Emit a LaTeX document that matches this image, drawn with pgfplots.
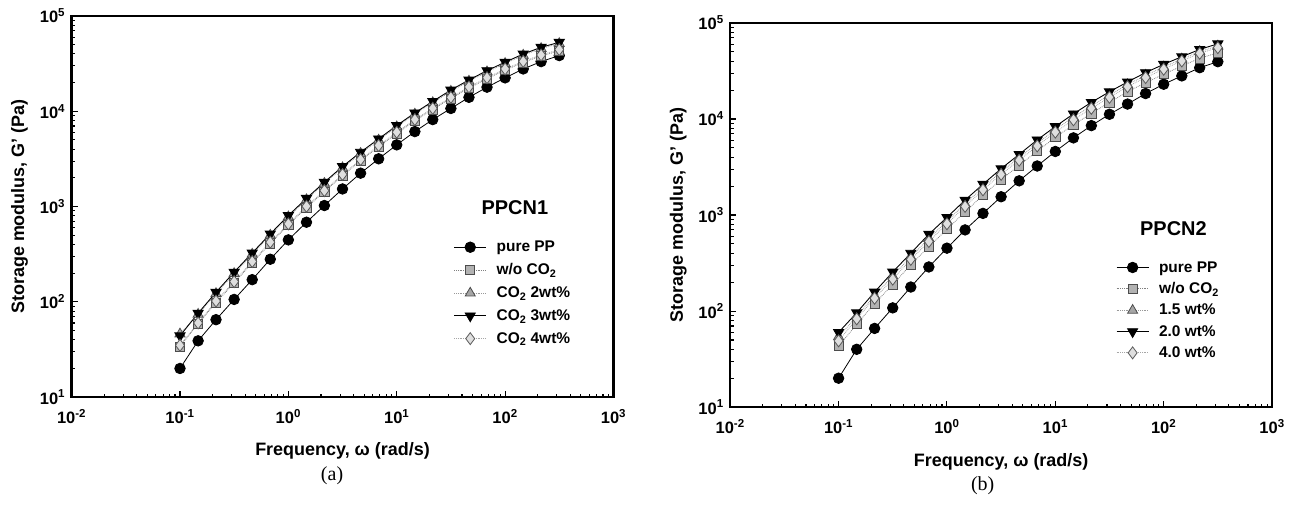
\documentclass[border=0pt]{standalone}
\usepackage{pgfplots}
\pgfplotsset{compat=1.18}
\usepackage{fontspec}
\setmainfont{Liberation Sans}
\newfontfamily\seriffont{Liberation Serif}
\begin{document}
\pgfplotsset{
  legend image code/.code={\draw[mark repeat=2,mark phase=2,#1] plot coordinates {(0pt,0pt)(16pt,0pt)(32pt,0pt)};},
  sPP/.style={black, line width=0.8pt, mark=*, mark size=5.3pt, mark options={solid, fill=black, draw=black}},
  sWO/.style={gray, line width=0.8pt, densely dotted, mark=square*, mark size=4.6pt, mark options={solid, fill=gray!60, draw=black!70, line width=0.8pt}},
  sA/.style={gray!80, line width=0.8pt, densely dotted, mark=triangle*, mark size=5.8pt, mark options={solid, fill=gray!70, draw=black!70, line width=0.8pt}},
  sB/.style={black, line width=0.9pt, mark=triangle*, mark size=5.8pt, mark options={solid, rotate=180, fill=black, draw=black}},
  sC/.style={gray!70, line width=0.8pt, densely dotted, mark=diamond*, mark size=6pt, mark options={solid, fill=gray!25, draw=black!65, line width=0.8pt}},
}
\begin{tikzpicture}
\path[use as bounding box] (0pt,0pt) rectangle (1293pt,508pt);
% ---------------- panel (a)
\begin{axis}[
    scale only axis, width=543pt, height=382pt, at={(69pt,110pt)}, anchor=south west,
    xmode=log, ymode=log,
    xmin=1e-2, xmax=1e3, ymin=1e1, ymax=1e5,
    xtick={1e-2,1e-1,1,10,100,1000},
    xticklabels={10\textsuperscript{-2},10\textsuperscript{-1},10\textsuperscript{0},10\textsuperscript{1},10\textsuperscript{2},10\textsuperscript{3}},
    ytick={1e1,1e2,1e3,1e4,1e5},
    yticklabels={10\textsuperscript{1},10\textsuperscript{2},10\textsuperscript{3},10\textsuperscript{4},10\textsuperscript{5}},
    minor xtick={0.02,0.03,0.04,0.05,0.06,0.07,0.08,0.09,0.2,0.3,0.4,0.5,0.6,0.7,0.8,0.9,2,3,4,5,6,7,8,9,20,30,40,50,60,70,80,90,200,300,400,500,600,700,800,900},
    minor ytick={20,30,40,50,60,70,80,90,200,300,400,500,600,700,800,900,2000,3000,4000,5000,6000,7000,8000,9000,20000,30000,40000,50000,60000,70000,80000,90000},
    tick align=inside, xtick pos=left, ytick pos=left,
    major tick length=6pt, minor tick length=3.5pt,
    every tick/.style={black, line width=1.1pt},
    axis line style={line width=2.4pt},
    ticklabel style={font=\fontsize{16.5}{18}\selectfont\bfseries},
    xticklabel style={yshift=-9pt},
    yticklabel style={xshift=-3pt},
    label style={font=\fontsize{18}{20}\selectfont\bfseries},
    xlabel={Frequency, ω (rad/s)},
    ylabel={Storage modulus, G' (Pa)},
    xlabel style={at={(axis description cs:0.5,-0.141)}, anchor=center},
    ylabel style={at={(axis description cs:-0.096,0.5)}, anchor=center},
    legend cell align=left,
    legend style={draw=none, fill=none, anchor=north west, font=\fontsize{15.5}{17}\selectfont\bfseries, row sep=6.5pt, inner sep=0pt,
      /tikz/every odd column/.append style={column sep=8pt},
      at={(axis description cs:0.705,0.415)}}]
\addplot[sPP] coordinates {(0.1,20)(0.147,39)(0.215,65)(0.316,106)(0.464,171)(0.681,280)(1,447)(1.47,685)(2.15,1025)(3.16,1530)(4.64,2240)(6.81,3170)(10,4440)(14.7,6120)(21.5,8180)(31.6,10700)(46.4,14000)(68.1,17900)(100,22400)(147,27800)(215,33200)(316,38400)};
\addlegendentry{pure PP}
\addplot[sWO] coordinates {(0.1,34)(0.147,59)(0.215,98)(0.316,158)(0.464,256)(0.681,410)(1,640)(1.47,975)(2.15,1430)(3.16,2110)(4.64,3020)(6.81,4240)(10,5850)(14.7,7950)(21.5,10450)(31.6,13600)(46.4,17500)(68.1,21900)(100,27000)(147,32500)(215,38000)(316,43000)};
\addlegendentry{w/o CO\textsubscript{2}}
\addplot[sA] coordinates {(0.1,46)(0.147,74)(0.215,122)(0.316,198)(0.464,316)(0.681,500)(1,780)(1.47,1180)(2.15,1750)(3.16,2550)(4.64,3610)(6.81,4980)(10,6870)(14.7,9330)(21.5,12300)(31.6,16200)(46.4,20700)(68.1,25900)(100,31700)(147,38700)(215,45500)(316,51300)};
\addlegendentry{CO\textsubscript{2} 2wt\%}
\addplot[sB] coordinates {(0.1,44)(0.147,76)(0.215,126)(0.316,205)(0.464,326)(0.681,516)(1,805)(1.47,1220)(2.15,1800)(3.16,2630)(4.64,3720)(6.81,5130)(10,7080)(14.7,9620)(21.5,12700)(31.6,16700)(46.4,21300)(68.1,26700)(100,32700)(147,39900)(215,46900)(316,52900)};
\addlegendentry{CO\textsubscript{2} 3wt\%}
\addplot[sC] coordinates {(0.1,35)(0.147,60)(0.215,102)(0.316,163)(0.464,265)(0.681,423)(1,658)(1.47,1007)(2.15,1470)(3.16,2170)(4.64,3110)(6.81,4370)(10,6030)(14.7,8190)(21.5,10750)(31.6,14000)(46.4,18000)(68.1,22500)(100,27800)(147,33400)(215,39000)(316,44400)};
\addlegendentry{CO\textsubscript{2} 4wt\%}
\node[font=\fontsize{20}{22}\selectfont\bfseries] at (axis description cs:0.818,0.497) {PPCN1};
\end{axis}
% ---------------- panel (b)
\begin{axis}[
    scale only axis, width=543pt, height=385pt, at={(729pt,100pt)}, anchor=south west,
    xmode=log, ymode=log,
    xmin=1e-2, xmax=1e3, ymin=1e1, ymax=1e5,
    xtick={1e-2,1e-1,1,10,100,1000},
    xticklabels={10\textsuperscript{-2},10\textsuperscript{-1},10\textsuperscript{0},10\textsuperscript{1},10\textsuperscript{2},10\textsuperscript{3}},
    ytick={1e1,1e2,1e3,1e4,1e5},
    yticklabels={10\textsuperscript{1},10\textsuperscript{2},10\textsuperscript{3},10\textsuperscript{4},10\textsuperscript{5}},
    minor xtick={0.02,0.03,0.04,0.05,0.06,0.07,0.08,0.09,0.2,0.3,0.4,0.5,0.6,0.7,0.8,0.9,2,3,4,5,6,7,8,9,20,30,40,50,60,70,80,90,200,300,400,500,600,700,800,900},
    minor ytick={20,30,40,50,60,70,80,90,200,300,400,500,600,700,800,900,2000,3000,4000,5000,6000,7000,8000,9000,20000,30000,40000,50000,60000,70000,80000,90000},
    tick align=inside, xtick pos=left, ytick pos=left,
    major tick length=6pt, minor tick length=3.5pt,
    every tick/.style={black, line width=1.1pt},
    axis line style={line width=2.4pt},
    ticklabel style={font=\fontsize{16.5}{18}\selectfont\bfseries},
    xticklabel style={yshift=-9pt},
    yticklabel style={xshift=-3pt},
    label style={font=\fontsize{18}{20}\selectfont\bfseries},
    xlabel={Frequency, ω (rad/s)},
    ylabel={Storage modulus, G' (Pa)},
    xlabel style={at={(axis description cs:0.5,-0.143)}, anchor=center},
    ylabel style={at={(axis description cs:-0.096,0.5)}, anchor=center},
    legend cell align=left,
    legend style={draw=none, fill=none, anchor=north west, font=\fontsize{15.5}{17}\selectfont\bfseries, row sep=5pt, inner sep=0pt,
      /tikz/every odd column/.append style={column sep=8pt},
      at={(axis description cs:0.712,0.385)}}]
\addplot[sPP] coordinates {(0.1,20)(0.147,40)(0.215,66)(0.316,108)(0.464,178)(0.681,288)(1,452)(1.47,700)(2.15,1040)(3.16,1550)(4.64,2270)(6.81,3240)(10,4590)(14.7,6360)(21.5,8530)(31.6,11200)(46.4,14300)(68.1,18400)(100,23000)(147,28100)(215,34200)(316,39500)};
\addlegendentry{pure PP}
\addplot[sWO] coordinates {(0.1,43)(0.147,73)(0.215,120)(0.316,189)(0.464,304)(0.681,467)(1,711)(1.47,1080)(2.15,1610)(3.16,2340)(4.64,3290)(6.81,4630)(10,6460)(14.7,8670)(21.5,11400)(31.6,14900)(46.4,19200)(68.1,23900)(100,29200)(147,35600)(215,42800)(316,49000)};
\addlegendentry{w/o CO\textsubscript{2}}
\addplot[sA] coordinates {(0.1,54)(0.147,88)(0.215,145)(0.316,232)(0.464,368)(0.681,570)(1,865)(1.47,1310)(2.15,1940)(3.16,2820)(4.64,3960)(6.81,5580)(10,7770)(14.7,10450)(21.5,13700)(31.6,17800)(46.4,22800)(68.1,28500)(100,34800)(147,42100)(215,50400)(316,57500)};
\addlegendentry{1.5 wt\%}
\addplot[sB] coordinates {(0.1,60)(0.147,96)(0.215,158)(0.316,255)(0.464,401)(0.681,631)(1,946)(1.47,1430)(2.15,2090)(3.16,3040)(4.64,4280)(6.81,6060)(10,8340)(14.7,11300)(21.5,14900)(31.6,19200)(46.4,24300)(68.1,30400)(100,37100)(147,44500)(215,53000)(316,60600)};
\addlegendentry{2.0 wt\%}
\addplot[sC] coordinates {(0.1,49)(0.147,83)(0.215,136)(0.316,215)(0.464,345)(0.681,530)(1,810)(1.47,1230)(2.15,1830)(3.16,2650)(4.64,3720)(6.81,5240)(10,7300)(14.7,9800)(21.5,12900)(31.6,16800)(46.4,21700)(68.1,27000)(100,33000)(147,40200)(215,48300)(316,55300)};
\addlegendentry{4.0 wt\%}
\node[font=\fontsize{20}{22}\selectfont\bfseries] at (axis description cs:0.818,0.465) {PPCN2};
\end{axis}
\node[font=\seriffont\fontsize{20}{22}\selectfont] at (330pt,31pt) {(a)};
\node[font=\seriffont\fontsize{20}{22}\selectfont] at (982pt,21pt) {(b)};
\end{tikzpicture}
\end{document}
